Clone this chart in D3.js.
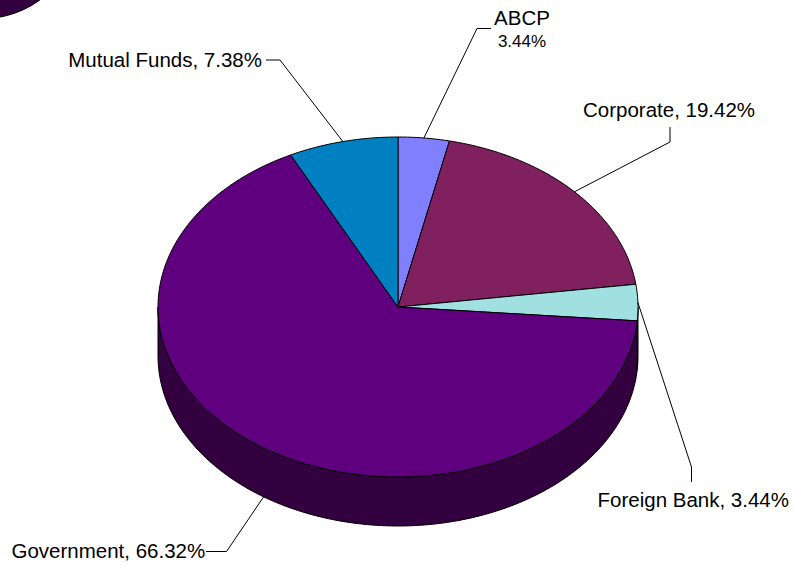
<!DOCTYPE html>
<html>
<head>
<meta charset="utf-8">
<script src="https://cdn.jsdelivr.net/npm/d3@7"></script>
<style>
  html, body { margin: 0; padding: 0; background: #fff; }
  svg { display: block; }
  text { font-family: "Liberation Sans", Arial, sans-serif; fill: #000; }
</style>
</head>
<body>
<script>
const categories = ["ABCP", "Corporate", "Foreign Bank", "Government", "Mutual Funds"]
const shares = [3.44, 19.42, 3.44, 66.32, 7.38]
const pctLabels = ["3.44%", "19.42%", "3.44%", "66.32%", "7.38%"]

const topColors = ["#8080FF", "#80205F", "#A0E0E0", "#5F007F", "#0080C0"]
const sideColors = ["#404080", "#401030", "#507070", "#330040", "#004060"]

// label placement: text anchor + leader elbow
const labelLayout = [
    { x: 522, y: 25, anchor: "middle", two: true, elbow: [[491, 28.5], [477, 28.5]] },
    { x: 583, y: 117, anchor: "start", elbow: [[670, 127], [670, 142]] },
    { x: 789, y: 506.5, anchor: "end", elbow: [[691.5, 482], [691.5, 467]] },
    { x: 11.5, y: 557.5, anchor: "start", elbow: [[206, 551.5], [226.5, 551.5]] },
    { x: 262, y: 67, anchor: "end", elbow: [[266, 60], [280, 60]] },
]

const W = 795, H = 565
const cx = 398, cy = 307, rx = 240, ry = 170, depth = 49

const svg = d3.select("body").append("svg")
    .attr("width", W)
    .attr("height", H)

// stray shape in the top-left corner of the original
svg.append("ellipse")
    .attr("cx", -20).attr("cy", -60)
    .attr("rx", 92).attr("ry", 79)
    .attr("fill", "#330040")
    .attr("stroke", "#000")
    .attr("stroke-width", 1)

const pie = d3.pie().sort(null).value((d) => d.value)
const arcs = pie(categories.map((c, i) => ({ name: c, value: shares[i], i })))

const pt = (a, dy = 0) => [cx + rx * Math.sin(a), cy - ry * Math.cos(a) + dy]

function ellArc(p, a0, a1, dy) {
    const n = Math.max(2, Math.ceil(Math.abs(a1 - a0) / 0.02))
    for (let k = 0; k <= n; k++) {
        const [x, y] = pt(a0 + (a1 - a0) * k / n, dy)
        p.lineTo(x, y)
    }
}

function topPath(d) {
    const p = d3.path()
    p.moveTo(cx, cy)
    ellArc(p, d.startAngle, d.endAngle, 0)
    p.closePath()
    return p.toString()
}

function sidePath(d) {
    const a0 = Math.max(d.startAngle, Math.PI / 2)
    const a1 = Math.min(d.endAngle, Math.PI * 3 / 2)
    if (a1 <= a0) return null
    const p = d3.path()
    const s = pt(a0)
    p.moveTo(s[0], s[1])
    ellArc(p, a0, a1, 0)
    ellArc(p, a1, a0, depth)
    p.closePath()
    return p.toString()
}

const gSide = svg.append("g")
gSide.selectAll("path")
    .data(arcs.filter((d) => sidePath(d)))
    .join("path")
    .attr("d", sidePath)
    .attr("fill", (d) => sideColors[d.data.i])
    .attr("stroke", "#000")
    .attr("stroke-width", 1)
    .attr("stroke-linejoin", "round")

const gTop = svg.append("g")
gTop.selectAll("path")
    .data(arcs)
    .join("path")
    .attr("d", topPath)
    .attr("fill", (d) => topColors[d.data.i])
    .attr("stroke", "#000")
    .attr("stroke-width", 1)
    .attr("stroke-linejoin", "round")

// leader lines and labels
const gLab = svg.append("g")
arcs.forEach((d) => {
    const i = d.data.i
    const L = labelLayout[i]
    const mid = (d.startAngle + d.endAngle) / 2
    const onSide = Math.cos(mid) < 0
    const anchorPt = pt(mid, onSide ? depth : 0)
    const pts = [L.elbow[0], L.elbow[1], anchorPt]
    gLab.append("path")
        .attr("d", d3.line()(pts))
        .attr("fill", "none")
        .attr("stroke", "#000")
        .attr("stroke-width", 1)

    if (L.two) {
        gLab.append("text")
            .attr("x", L.x).attr("y", L.y)
            .attr("text-anchor", L.anchor)
            .attr("font-size", 20.5)
            .text(d.data.name)
        gLab.append("text")
            .attr("x", L.x).attr("y", L.y + 22)
            .attr("text-anchor", L.anchor)
            .attr("font-size", 17)
            .text(pctLabels[i])
    } else {
        gLab.append("text")
            .attr("x", L.x).attr("y", L.y)
            .attr("text-anchor", L.anchor)
            .attr("font-size", 20.5)
            .text(`${d.data.name}, ${pctLabels[i]}`)
    }
})
</script>
</body>
</html>
